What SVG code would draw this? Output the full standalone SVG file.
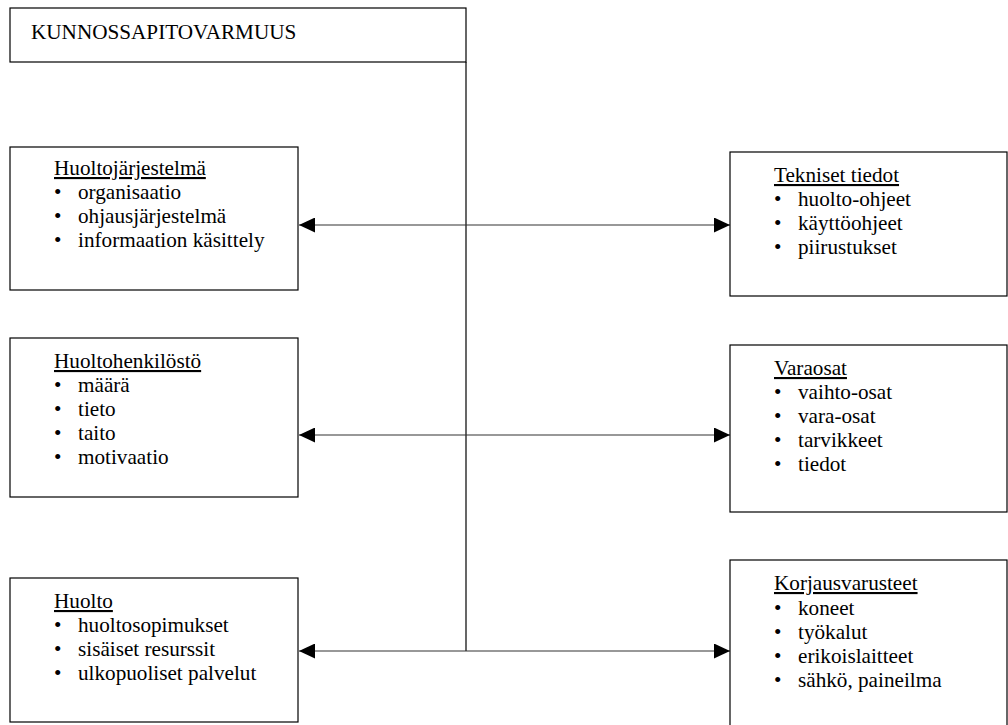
<svg xmlns="http://www.w3.org/2000/svg" width="1008" height="725" viewBox="0 0 1008 725">
  <style>
    .box { fill: #fff; stroke: #000; stroke-width: 1.2; }
    .conn { stroke: #333; stroke-width: 1.2; fill: none; }
    .spine { stroke: #000; stroke-width: 1.2; fill: none; }
    text { font-family: "Liberation Serif", "Times New Roman", serif; font-size: 21.2px; fill: #000; }
    .head { text-decoration: underline; }
  </style>
  <defs>
    <marker id="arrowhead" viewBox="0 0 16 15" refX="16" refY="7.5" markerWidth="16" markerHeight="15" markerUnits="userSpaceOnUse" orient="auto-start-reverse">
      <path d="M0,0 L16,7.5 L0,15 Z" fill="#000"/>
    </marker>
  </defs>

  <rect width="1008" height="725" fill="#fff"/>

  <g id="kunnossapitovarmuus">
    <rect class="box" x="10" y="8" width="456" height="54"/>
    <text x="31" y="39">KUNNOSSAPITOVARMUUS</text>
  </g>

  <g id="connectors">
    <line class="spine" x1="466" y1="62" x2="466" y2="651"/>
    <line class="conn" x1="299" y1="225" x2="730" y2="225" marker-start="url(#arrowhead)" marker-end="url(#arrowhead)"/>
    <line class="conn" x1="299" y1="435" x2="730" y2="435" marker-start="url(#arrowhead)" marker-end="url(#arrowhead)"/>
    <line class="conn" x1="299" y1="651" x2="730" y2="651" marker-start="url(#arrowhead)" marker-end="url(#arrowhead)"/>
  </g>

  <g id="huoltojarjestelma">
    <rect class="box" x="10" y="147" width="288" height="143"/>
    <text class="head" x="54" y="175">Huoltojärjestelmä</text>
    <text x="54" y="199">•</text><text x="78" y="199">organisaatio</text>
    <text x="54" y="223">•</text><text x="78" y="223">ohjausjärjestelmä</text>
    <text x="54" y="247">•</text><text x="78" y="247">informaation käsittely</text>
  </g>

  <g id="tekniset-tiedot">
    <rect class="box" x="730" y="152" width="277" height="144"/>
    <text class="head" x="774" y="182">Tekniset tiedot</text>
    <text x="774" y="206">•</text><text x="798" y="206">huolto-ohjeet</text>
    <text x="774" y="230">•</text><text x="798" y="230">käyttöohjeet</text>
    <text x="774" y="254">•</text><text x="798" y="254">piirustukset</text>
  </g>

  <g id="huoltohenkilosto">
    <rect class="box" x="10" y="338" width="288" height="159"/>
    <text class="head" x="54" y="368">Huoltohenkilöstö</text>
    <text x="54" y="392">•</text><text x="78" y="392">määrä</text>
    <text x="54" y="416">•</text><text x="78" y="416">tieto</text>
    <text x="54" y="440">•</text><text x="78" y="440">taito</text>
    <text x="54" y="464">•</text><text x="78" y="464">motivaatio</text>
  </g>

  <g id="varaosat">
    <rect class="box" x="730" y="345" width="277" height="167"/>
    <text class="head" x="774" y="375">Varaosat</text>
    <text x="774" y="399">•</text><text x="798" y="399">vaihto-osat</text>
    <text x="774" y="423">•</text><text x="798" y="423">vara-osat</text>
    <text x="774" y="447">•</text><text x="798" y="447">tarvikkeet</text>
    <text x="774" y="471">•</text><text x="798" y="471">tiedot</text>
  </g>

  <g id="huolto">
    <rect class="box" x="10" y="578" width="288" height="144"/>
    <text class="head" x="54" y="608">Huolto</text>
    <text x="54" y="632">•</text><text x="78" y="632">huoltosopimukset</text>
    <text x="54" y="656">•</text><text x="78" y="656">sisäiset resurssit</text>
    <text x="54" y="680">•</text><text x="78" y="680">ulkopuoliset palvelut</text>
  </g>

  <g id="korjausvarusteet">
    <rect class="box" x="730" y="560" width="277" height="180"/>
    <text class="head" x="774" y="590">Korjausvarusteet</text>
    <text x="774" y="615">•</text><text x="798" y="615">koneet</text>
    <text x="774" y="639">•</text><text x="798" y="639">työkalut</text>
    <text x="774" y="663">•</text><text x="798" y="663">erikoislaitteet</text>
    <text x="774" y="687">•</text><text x="798" y="687">sähkö, paineilma</text>
  </g>
</svg>
